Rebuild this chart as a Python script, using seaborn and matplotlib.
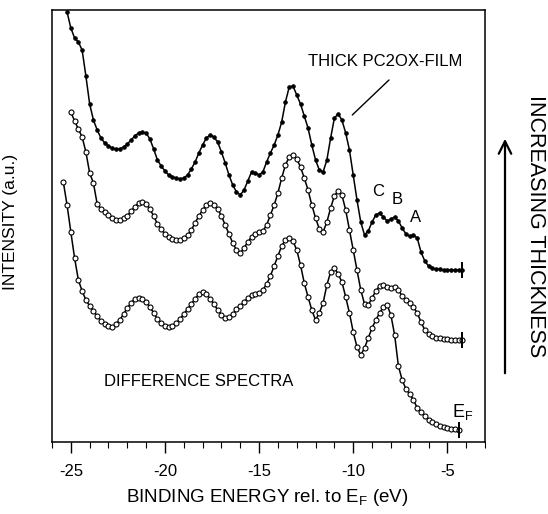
import numpy as np
import pandas as pd
import matplotlib
matplotlib.use('Agg')
import matplotlib.pyplot as plt
from matplotlib.ticker import MultipleLocator
import seaborn as sns

# binding energy grid (eV), shared by the three difference spectra
energy = [-25.4, -25.2, -25.0, -24.8, -24.6, -24.4, -24.2, -24.0, -23.8, -23.6,
          -23.4, -23.2, -23.0, -22.8, -22.6, -22.4, -22.2, -22.0, -21.8, -21.6,
          -21.4, -21.2, -21.0, -20.8, -20.6, -20.4, -20.2, -20.0, -19.8, -19.6,
          -19.4, -19.2, -19.0, -18.8, -18.6, -18.4, -18.2, -18.0, -17.8, -17.6,
          -17.4, -17.2, -17.0, -16.8, -16.6, -16.4, -16.2, -16.0, -15.8, -15.6,
          -15.4, -15.2, -15.0, -14.8, -14.6, -14.4, -14.2, -14.0, -13.8, -13.6,
          -13.4, -13.2, -13.0, -12.8, -12.6, -12.4, -12.2, -12.0, -11.8, -11.6,
          -11.4, -11.2, -11.0, -10.8, -10.6, -10.4, -10.2, -10.0, -9.8, -9.6,
          -9.4, -9.2, -9.0, -8.8, -8.6, -8.4, -8.2, -8.0, -7.8, -7.6,
          -7.4, -7.2, -7.0, -6.8, -6.6, -6.4, -6.2, -6.0, -5.8, -5.6,
          -5.4, -5.2, -5.0, -4.8, -4.6, -4.4, -4.2]

nan = np.nan

# thick PC2OX film (top, filled dots)
thick = [nan, 430, 414, 404, 400, 392, 366, 338, 322, 312,
         304, 299, 296, 294, 293, 293, 295, 298, 302, 306,
         309, 310, 309, 303, 293, 282, 276, 271, 267, 265,
         264, 263, 264, 267, 273, 280, 289, 297, 304, 307,
         305, 300, 290, 279, 267, 257, 250, 247, 252, 261,
         270, 269, 267, 270, 280, 289, 297, 307, 320, 340,
         355, 356, 347, 338, 326, 314, 297, 282, 272, 270,
         282, 304, 324, 328, 322, 309, 292, 267, 242, 220,
         207, 211, 220, 227, 229, 225, 221, 223, 225, 221,
         214, 208, 206, 207, 204, 190, 181, 176, 174, 173,
         173, 172, 172, 172, 172, 172, 172]

# intermediate thickness (middle, open circles)
medium = [nan, nan, 330, 321, 313, 305, 290, 269, 259, 238,
          233, 230, 227, 224, 222, 222, 224, 226, 231, 235,
          239, 240, 238, 233, 226, 218, 213, 208, 205, 203,
          202, 202, 204, 207, 212, 219, 226, 232, 237, 239,
          237, 233, 226, 217, 208, 199, 192, 189, 194, 200,
          205, 208, 210, 211, 217, 227, 237, 249, 264, 277,
          285, 287, 283, 275, 264, 252, 237, 224, 213, 210,
          220, 234, 246, 251, 247, 232, 212, 192, 172, 152,
          138, 137, 144, 151, 156, 157, 155, 154, 155, 152,
          146, 142, 139, 135, 129, 120, 112, 108, 106, 104,
          104, 103, 103, 102, 102, 102, 102]

# thinnest film (bottom, open circles)
thin = [260, 237, 210, 184, 162, 151, 142, 136, 131, 126,
        121, 118, 116, 115, 118, 122, 128, 134, 139, 143,
        144, 143, 140, 135, 129, 123, 119, 116, 115, 116,
        119, 123, 128, 133, 138, 143, 148, 150, 148, 143,
        138, 132, 127, 124, 125, 128, 133, 136, 140, 144,
        147, 148, 149, 152, 158, 166, 176, 186, 196, 202,
        204, 201, 192, 177, 159, 145, 132, 122, 129, 139,
        157, 170, 174, 168, 160, 145, 129, 110, 95, 87,
        94, 104, 114, 122, 129, 135, 137, 127, 107, 76,
        62, 53, 48, 42, 34, 30, 26, 22, 20, 18,
        16, 15, 14, 13, 13, 12, nan]

xticks = [-25, -20, -15, -10, -5]
xtick_labels = ['-25', '-20', '-15', '-10', '-5']

sns.set_theme(style='ticks')
plt.rcParams['font.family'] = ['Liberation Sans', 'DejaVu Sans']
plt.rcParams['mathtext.fontset'] = 'custom'
plt.rcParams['mathtext.rm'] = 'Liberation Sans'
plt.rcParams['mathtext.it'] = 'Liberation Sans'
plt.rcParams['axes.unicode_minus'] = False
plt.rcParams['text.color'] = 'black'
plt.rcParams['axes.labelcolor'] = 'black'
plt.rcParams['xtick.color'] = 'black'
plt.rcParams['xtick.labelcolor'] = 'black'

fig = plt.figure(figsize=(5.48, 5.14), dpi=100)
ax = fig.add_axes([52 / 548, 1 - 442 / 514, 433 / 548, 432 / 514])

spectra = [
    (thin, dict(marker='o', markersize=3.6, markerfacecolor='white',
                markeredgecolor='black', markeredgewidth=0.8)),
    (medium, dict(marker='o', markersize=3.6, markerfacecolor='white',
                  markeredgecolor='black', markeredgewidth=0.8)),
    (thick, dict(marker='o', markersize=2.7, markerfacecolor='black',
                 markeredgecolor='black', markeredgewidth=0.5)),
]

for values, style in spectra:
    df = pd.DataFrame({'E': energy, 'I': values}).dropna()
    sns.lineplot(data=df, x='E', y='I', ax=ax, color='black', linewidth=1.1,
                 estimator=None, sort=False, **style)
    # end bar at the Fermi level side
    ax.plot(df['E'].iloc[-1], df['I'].iloc[-1], marker='|', markersize=11,
            markeredgewidth=1.4, color='black')

ax.set_xlim(-26, -3)
ax.set_ylim(0, 432)
ax.set_xticks(xticks)
ax.set_xticklabels(xtick_labels)
ax.xaxis.set_minor_locator(MultipleLocator(1))
ax.set_yticks([])
ax.tick_params(axis='x', which='major', length=8, width=1.0, pad=8,
               labelsize=12, colors='black')
ax.tick_params(axis='x', which='minor', length=4.5, width=0.8, colors='black')
for sp in ax.spines.values():
    sp.set_linewidth(1.1)
    sp.set_color('black')

ax.set_xlabel(r'BINDING ENERGY rel. to E$_\mathrm{F}$ (eV)', fontsize=13.5)
ax.xaxis.set_label_coords(0.498, -0.105)
ax.set_ylabel('INTENSITY (a.u.)', fontsize=12.5)
ax.yaxis.set_label_coords(-0.078, 0.51)

# annotations
ax.text(-8.3, 380, 'THICK PC2OX-FILM', fontsize=12, ha='center', va='center')
ax.plot([-8.1, -10.05], [362, 327], color='black', linewidth=1.0)
ax.text(-8.7, 251, 'C', fontsize=12, ha='center', va='center')
ax.text(-7.68, 243, 'B', fontsize=12, ha='center', va='center')
ax.text(-6.67, 225, 'A', fontsize=12, ha='center', va='center')
ax.text(-23.25, 61, 'DIFFERENCE SPECTRA', fontsize=12, ha='left', va='center')
ax.text(-4.2, 30, r'E$_\mathrm{F}$', fontsize=13, ha='center', va='center')

# increasing thickness arrow outside the frame
fig.patches.append(matplotlib.patches.FancyArrowPatch(
    (505 / 548, 1 - 376 / 514), (505 / 548, 1 - 136 / 514),
    transform=fig.transFigure, arrowstyle='->,head_length=6,head_width=3',
    mutation_scale=1.5, linewidth=1.6, color='black'))
fig.text(535 / 548, 1 - 226 / 514, 'INCREASING THICKNESS', rotation=270,
         fontsize=15.5, ha='center', va='center')

plt.savefig('out.png', dpi=100)
